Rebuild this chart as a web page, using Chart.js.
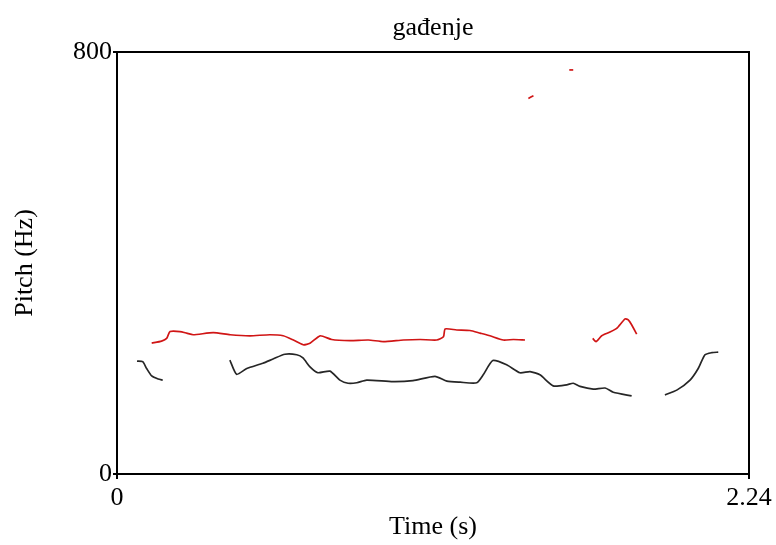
<!DOCTYPE html>
<html>
<head>
<meta charset="utf-8">
<script src="https://cdn.jsdelivr.net/npm/chart.js@4.4.0/dist/chart.umd.min.js"></script>
<style>
  html, body { margin: 0; padding: 0; background: #fff; }
  #wrap { width: 776px; height: 545px; }
</style>
</head>
<body>
<div id="wrap"><canvas id="pitchChart" width="776" height="545"></canvas></div>
<script>
// eixos
const xTicks = [0, 2.24];
const yTicks = [0, 800];

// curva preta (time s, pitch Hz) - três trechos
const black1T = [0.071, 0.091, 0.105, 0.123, 0.146, 0.162];
const black1F = [214, 213, 200, 186, 180, 178];

const black2T = [0.400, 0.424, 0.460, 0.517, 0.553, 0.595, 0.637, 0.659, 0.684, 0.712, 0.755, 0.790, 0.819, 0.850, 0.885, 0.978, 1.049, 1.127, 1.169, 1.216, 1.275, 1.298, 1.332, 1.381, 1.428, 1.464, 1.499, 1.546, 1.594, 1.617, 1.641, 1.688, 1.730, 1.759, 1.824];
const black2F = [216, 189, 200, 210, 218, 227, 226, 220, 203, 192, 195, 178, 172, 173, 178, 175, 177, 185, 176, 174, 173, 188, 215, 207, 192, 194, 188, 167, 169, 172, 166, 161, 163, 155, 148];

const black3T = [1.942, 1.984, 2.031, 2.060, 2.084, 2.108, 2.131];
const black3F = [150, 159, 178, 200, 226, 230, 231];

// curva vermelha - trechos
const red1T = [0.123, 0.158, 0.176, 0.188, 0.223, 0.247, 0.270, 0.341, 0.401, 0.471, 0.542, 0.589, 0.625, 0.660, 0.684, 0.720, 0.761, 0.826, 0.891, 0.944, 1.015, 1.074, 1.133, 1.157, 1.163, 1.204, 1.251, 1.287, 1.322, 1.369, 1.405, 1.446];
const red1F = [248, 252, 257, 270, 270, 267, 264, 268, 264, 262, 264, 262, 254, 245, 248, 262, 255, 253, 254, 251, 254, 255, 254, 260, 275, 273, 272, 267, 262, 254, 255, 254];

const red2T = [1.686, 1.698, 1.718, 1.747, 1.771, 1.801, 1.812, 1.824, 1.842];
const red2F = [257, 251, 262, 269, 276, 294, 292, 283, 265];

const red3T = [1.458, 1.476];
const red3F = [712, 717];

const red4T = [1.603, 1.617];
const red4F = [766, 766];

const FONT = 'Liberation Serif, Times New Roman, serif';
const FSIZE = 26;

function pontos(ts, fs) {
    return ts.map((t, i) => ({ x: t, y: fs[i] }));
}

function serie(ts, fs, cor) {
    return {
        data: pontos(ts, fs),
        showLine: true,
        borderColor: cor,
        borderWidth: 1.7,
        pointRadius: 0,
        tension: 0.2,
        fill: false
    };
}

// moldura e título desenhados sobre a área do gráfico
const molduraPlugin = {
    id: 'moldura',
    afterDraw(chart) {
        const { ctx, chartArea: a } = chart;
        ctx.save();
        ctx.strokeStyle = '#000';
        ctx.lineWidth = 2;
        ctx.strokeRect(a.left, a.top, a.right - a.left, a.bottom - a.top);
        ctx.fillStyle = '#000';
        ctx.font = FSIZE + 'px ' + FONT;
        ctx.textAlign = 'center';
        ctx.textBaseline = 'alphabetic';
        ctx.fillText('gađenje', (a.left + a.right) / 2, a.top - 17);
        ctx.restore();
    }
};

new Chart(document.getElementById('pitchChart'), {
    type: 'scatter',
    data: {
        datasets: [
            serie(black1T, black1F, '#262626'),
            serie(black2T, black2F, '#262626'),
            serie(black3T, black3F, '#262626'),
            serie(red1T, red1F, '#d01515'),
            serie(red2T, red2F, '#d01515'),
            serie(red3T, red3F, '#d01515'),
            serie(red4T, red4F, '#d01515')
        ]
    },
    options: {
        responsive: false,
        animation: false,
        layout: { padding: { left: 0, right: 27, top: 52, bottom: 0 } },
        plugins: { legend: { display: false }, tooltip: { enabled: false } },
        scales: {
            x: {
                type: 'linear',
                min: 0,
                max: 2.24,
                afterBuildTicks: s => { s.ticks = xTicks.map(v => ({ value: v })); },
                afterFit: s => { s.height = 71; },
                ticks: {
                    color: '#000',
                    font: { family: FONT, size: FSIZE },
                    padding: 4,
                    maxRotation: 0,
                    callback: v => String(v)
                },
                grid: { drawOnChartArea: false, tickLength: 5, color: '#000', lineWidth: 2 },
                border: { display: false },
                title: {
                    display: true,
                    text: 'Time (s)',
                    color: '#000',
                    font: { family: FONT, size: FSIZE },
                    padding: { top: 0, bottom: 2 }
                }
            },
            y: {
                type: 'linear',
                min: 0,
                max: 800,
                afterBuildTicks: s => { s.ticks = yTicks.map(v => ({ value: v })); },
                afterFit: s => { s.width = 117; },
                ticks: {
                    color: '#000',
                    font: { family: FONT, size: FSIZE },
                    padding: 1
                },
                grid: { drawOnChartArea: false, tickLength: 4, color: '#000', lineWidth: 2 },
                border: { display: false },
                title: {
                    display: true,
                    text: 'Pitch (Hz)',
                    color: '#000',
                    font: { family: FONT, size: FSIZE },
                    padding: { top: 10, bottom: 0 }
                }
            }
        }
    },
    plugins: [molduraPlugin]
});
</script>
</body>
</html>
